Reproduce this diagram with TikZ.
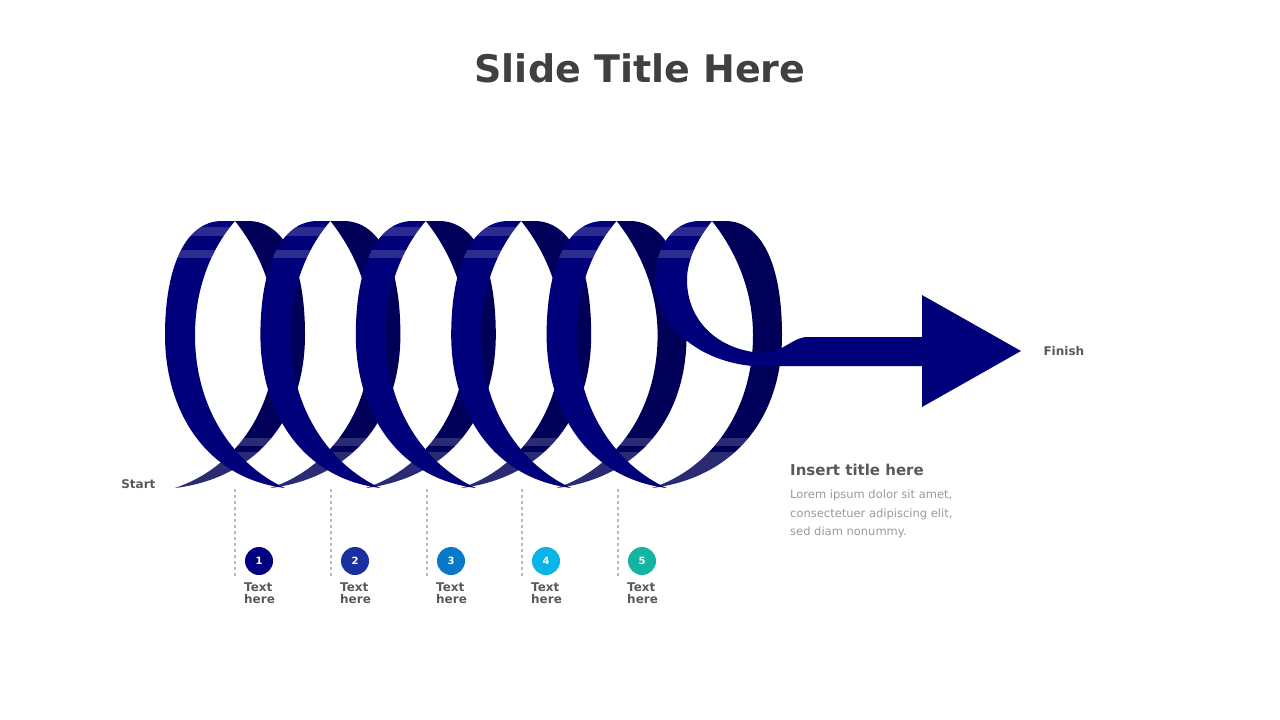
\documentclass[tikz,border=0pt]{standalone}
\usepackage{fontspec}
\setmainfont{DejaVu Sans}
\definecolor{frontc}{HTML}{00007A}
\definecolor{backc}{HTML}{000058}
\definecolor{txt}{HTML}{595959}
\definecolor{ttl}{HTML}{404040}
\begin{document}
\begin{tikzpicture}[x=1pt,y=-1pt,
  lbl/.style={font=\bfseries\fontsize{12}{14}\selectfont,text=txt},
  num/.style={circle,minimum size=28pt,inner sep=0pt,text=white,font=\bfseries\fontsize{10}{10}\selectfont},
  guide/.style={draw=gray!55,dashed,line width=1.5pt}]
\useasboundingbox (0,0) rectangle (1280,720);
\node[font=\bfseries\fontsize{38}{44}\selectfont,text=ttl] (title) at (640,68) {Slide Title Here};
% backs
\foreach \k in {0,...,5}{
\begin{scope}[xshift=\k*95.4]
 \fill[backc] (175,488) .. controls (255,478) and (305,420) .. (305,335) .. controls (305,265) and (285,221) .. (248,221) -- (235,221) .. controls (262,255) and (276,295) .. (276,335) .. controls (276,410) and (235,468) .. (175,488) -- cycle;
 \begin{scope}
 \clip (175,488) .. controls (255,478) and (305,420) .. (305,335) .. controls (305,265) and (285,221) .. (248,221) -- (235,221) .. controls (262,255) and (276,295) .. (276,335) .. controls (276,410) and (235,468) .. (175,488) -- cycle;
 \fill[white,opacity=0.17] (150,438) rectangle (320,446);
 \fill[white,opacity=0.17] (150,452) rectangle (320,495);
 \end{scope}
\end{scope}}
% fronts
\foreach \k in {0,...,4}{
\begin{scope}[xshift=\k*95.4]
 \fill[frontc] (285,488) .. controls (205,478) and (165,410) .. (165,335) .. controls (165,268) and (185,221) .. (222,221) -- (235,221) .. controls (210,250) and (195,290) .. (195,335) .. controls (195,410) and (235,465) .. (285,488) -- cycle;
 \begin{scope}
 \clip (285,488) .. controls (205,478) and (165,410) .. (165,335) .. controls (165,268) and (185,221) .. (222,221) -- (235,221) .. controls (210,250) and (195,290) .. (195,335) .. controls (195,410) and (235,465) .. (285,488) -- cycle;
 \fill[white,opacity=0.17] (150,227) rectangle (320,236);
 \fill[white,opacity=0.17] (150,250) rectangle (320,258);
 \end{scope}
\end{scope}}
% last front
\begin{scope}[xshift=477]
 \fill[frontc] (275,366) .. controls (215,360) and (178,320) .. (178,280) .. controls (178,245) and (198,221) .. (222,221) -- (235,221) .. controls (220,240) and (210,260) .. (210,280) .. controls (210,320) and (240,350) .. (285,353) -- (293,366) -- cycle;
 \begin{scope}
 \clip (275,366) .. controls (215,360) and (178,320) .. (178,280) .. controls (178,245) and (198,221) .. (222,221) -- (235,221) .. controls (220,240) and (210,260) .. (210,280) .. controls (210,320) and (240,350) .. (285,353) -- (293,366) -- cycle;
 \fill[white,opacity=0.17] (150,227) rectangle (320,236);
 \fill[white,opacity=0.17] (150,250) rectangle (320,258);
 \end{scope}
\end{scope}
% arrow
\fill[frontc] (760,366) -- (922,366) -- (922,407) -- (1021,351) -- (922,295) -- (922,337) -- (808,337) .. controls (792,337) and (785,352) .. (762,353) -- cycle;
\node[lbl,anchor=west] (finish) at (1040,351) {Finish};
\node[lbl,anchor=east] (start) at (159,484) {Start};
% guides
\foreach \x/\c/\n [count=\i] in {235/000080/1,331/1A2FA0/2,427/0A78C8/3,522/0AB4E6/4,618/14B4A0/5}{
  \coordinate (g\i) at (\x,489);
  \coordinate (h\i) at (\x,577);
  \draw[guide] (g\i) -- (h\i);
  \definecolor{cc}{HTML}{\c}
  \node[num,fill=cc] (n\i) at (\x+24,561) {\n};
  \node[lbl,align=left,anchor=north west,inner sep=0pt] (t\i) at (\x+9,583) {Text\\[-2pt]here};
}
\node[font=\bfseries\fontsize{15}{18}\selectfont,text=txt,anchor=west,inner sep=0pt] (it) at (790,470) {Insert title here};
\node[text=gray!80,font=\fontsize{11.5}{18.5}\selectfont,align=left,anchor=north west,inner sep=0pt] (body) at (790,490) {Lorem ipsum dolor sit amet,\\consectetuer adipiscing elit,\\sed diam nonummy.};
\end{tikzpicture}
\end{document}
